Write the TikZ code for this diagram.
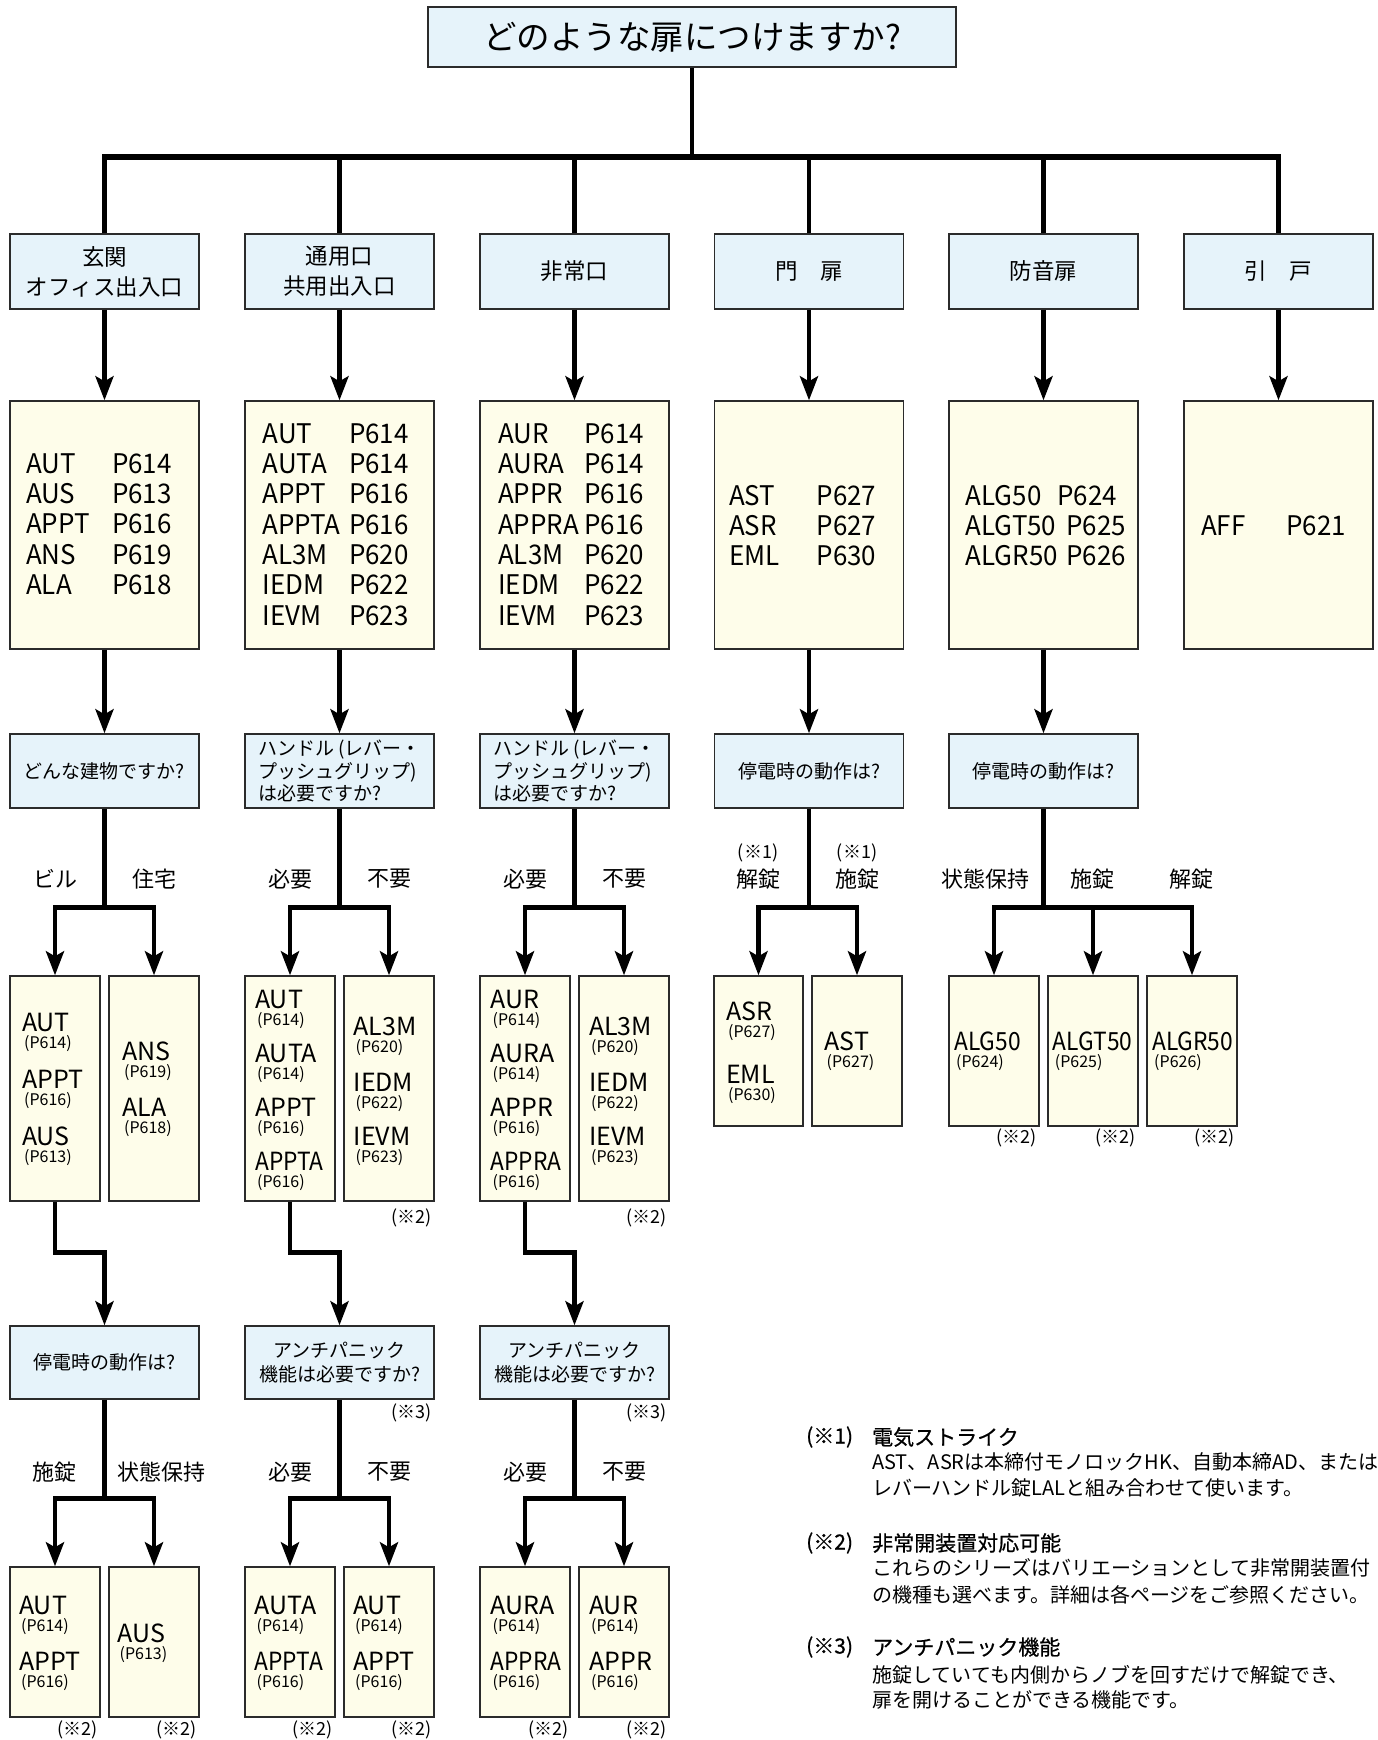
\documentclass[tikz,border=0pt]{standalone}
\usepackage{fontspec}
\setmainfont{Noto Sans CJK JP}
\newfontfamily\condf[FakeStretch=0.96]{Noto Sans CJK JP}
\newfontfamily\narf[FakeStretch=0.91]{Noto Sans CJK JP}
\newfontfamily\medf[FakeBold=0.6]{Noto Sans CJK JP}
\usetikzlibrary{arrows.meta,calc}
\definecolor{qblue}{HTML}{E6F3FA}
\definecolor{pyel}{HTML}{FEFDEA}
\definecolor{bord}{HTML}{2B2B2B}
\newcommand\fsz[2]{\fontsize{#1pt}{#2pt}\selectfont}
\newcommand\bx[7]{\node[#1,minimum width={(#5)-(#3)},minimum height={(#6)-(#4)}] (#2) at ({((#3)+(#5))/2},{((#4)+(#6))/2}) {#7};}
\newcommand\pl[6]{\node[ptx] (#1a) at (#2,#4) {#5};\node[ptx] (#1b) at (#3,#4) {#6};}
\newcommand\si[5]{\node[stx] (#1) at (#2,#3) {#4};\node[ctx] (#1c) at ({#2+2},{#3+17}) {(#5)};}
\begin{document}
\begin{tikzpicture}[x=1pt,y=-1pt,
  box/.style={draw=bord,line width=1.4pt,inner sep=0pt,align=center},
  qbox/.style={box,fill=qblue},
  pbox/.style={box,fill=pyel},
  line/.style={line width=4.5pt},
  arr/.style={line width=4.5pt,-{Stealth[length=24pt,width=18pt,inset=5pt]}},
  ptx/.style={anchor=base west,inner sep=0pt,font=\condf\fsz{27}{30}},
  stx/.style={anchor=base west,inner sep=0pt,font=\fsz{25}{25}},
  ctx/.style={anchor=base west,inner sep=0pt,font=\fsz{16}{16}},
  lab/.style={inner sep=0pt,font=\fsz{22}{22}},
  note/.style={inner sep=0pt,anchor=east,font=\fsz{18}{18}},
  fn/.style={inner sep=0pt,anchor=west,font=\fsz{20}{20}},
  fh/.style={inner sep=0pt,anchor=west,font=\medf\fsz{21}{21}},
]
\useasboundingbox (0,0) rectangle (1378,1740);

% ---- top
\bx{qbox,font=\fsz{33.5}{36}}{top}{428}{7}{956}{67}{どのような扉につけますか?}
% ---- level 1
\bx{qbox,font=\fsz{22.5}{30}}{L1}{10}{234}{199}{309}{玄関\\オフィス出入口}
\bx{qbox,font=\fsz{22.5}{30}}{L2}{245}{234}{434}{309}{通用口\\共用出入口}
\bx{qbox,font=\fsz{22.5}{30}}{L3}{480}{234}{669}{309}{非常口}
\bx{qbox,font=\fsz{22.5}{30}}{L4}{714.5}{234}{903.5}{309}{門　扉}
\bx{qbox,font=\fsz{22.5}{30}}{L5}{949}{234}{1138}{309}{防音扉}
\bx{qbox,font=\fsz{22.5}{30}}{L6}{1184}{234}{1373}{309}{引　戸}
% ---- product lists
\bx{pbox}{P1}{10}{401}{199}{649}{}
\bx{pbox}{P2}{245}{401}{434}{649}{}
\bx{pbox}{P3}{480}{401}{669}{649}{}
\bx{pbox}{P4}{714.5}{401}{903.5}{649}{}
\bx{pbox}{P5}{949}{401}{1138}{649}{}
\bx{pbox}{P6}{1184}{401}{1373}{649}{}
\pl{p11}{26}{112}{473.3}{AUT}{P614}
\pl{p12}{26}{112}{503.6}{AUS}{P613}
\pl{p13}{26}{112}{533.9}{APPT}{P616}
\pl{p14}{26}{112}{564.2}{ANS}{P619}
\pl{p15}{26}{112}{594.5}{ALA}{P618}
\pl{p21}{262.5}{349}{443.3}{AUT}{P614}
\pl{p22}{262.5}{349}{473.6}{AUTA}{P614}
\pl{p23}{262.5}{349}{503.9}{APPT}{P616}
\pl{p24}{262.5}{349}{534.2}{APPTA}{P616}
\pl{p25}{262.5}{349}{564.5}{AL3M}{P620}
\pl{p26}{262.5}{349}{594.8}{IEDM}{P622}
\pl{p27}{262.5}{349}{625.1}{IEVM}{P623}
\pl{p31}{498}{584}{443.3}{AUR}{P614}
\pl{p32}{498}{584}{473.6}{AURA}{P614}
\pl{p33}{498}{584}{503.9}{APPR}{P616}
\pl{p34}{498}{584}{534.2}{APPRA}{P616}
\pl{p35}{498}{584}{564.5}{AL3M}{P620}
\pl{p36}{498}{584}{594.8}{IEDM}{P622}
\pl{p37}{498}{584}{625.1}{IEVM}{P623}
\pl{p41}{729}{816.5}{505}{AST}{P627}
\pl{p42}{729}{816.5}{535.3}{ASR}{P627}
\pl{p43}{729}{816.5}{565.6}{EML}{P630}
\pl{p51}{965.5}{1057}{505}{ALG50}{P624}
\pl{p52}{965.5}{1066}{535.3}{ALGT50}{P625}
\pl{p53}{965.5}{1066}{565.6}{ALGR50}{P626}
\pl{p61}{1201}{1286}{535}{AFF}{P621}
% ---- questions
\bx{qbox,font=\fsz{19}{23}}{Q1}{10}{734}{199}{808}{どんな建物ですか?}
\bx{qbox,font=\fsz{19}{22.5},align=left}{Q2}{245}{734}{434}{808}{ハンドル (レバー・\\プッシュグリップ)\\は必要ですか?}
\bx{qbox,font=\fsz{19}{22.5},align=left}{Q3}{480}{734}{669}{808}{ハンドル (レバー・\\プッシュグリップ)\\は必要ですか?}
\bx{qbox,font=\fsz{19}{23}}{Q4}{714.5}{734}{903.5}{808}{停電時の動作は?}
\bx{qbox,font=\fsz{19}{23}}{Q5}{949}{734}{1138}{808}{停電時の動作は?}
% ---- sub boxes
\bx{pbox}{S1a}{10}{976}{100}{1201}{}
\bx{pbox}{S1b}{109}{976}{199}{1201}{}
\bx{pbox}{S2a}{245}{976}{335}{1201}{}
\bx{pbox}{S2b}{344}{976}{434}{1201}{}
\bx{pbox}{S3a}{480}{976}{570}{1201}{}
\bx{pbox}{S3b}{579}{976}{669}{1201}{}
\bx{pbox}{S4a}{714}{976}{803}{1126}{}
\bx{pbox}{S4b}{812}{976}{902}{1126}{}
\bx{pbox}{S5a}{949}{976}{1039}{1126}{}
\bx{pbox}{S5b}{1048}{976}{1138}{1126}{}
\bx{pbox}{S5c}{1147}{976}{1237}{1126}{}
\si{s1a1}{22}{1031.7}{AUT}{P614}
\si{s1a2}{22}{1088.3}{APPT}{P616}
\si{s1a3}{22}{1145}{AUS}{P613}
\si{s1b1}{122}{1060.7}{ANS}{P619}
\si{s1b2}{122}{1116.7}{ALA}{P618}
\si{s2a1}{255}{1008.3}{AUT}{P614}
\si{s2a2}{255}{1062.3}{AUTA}{P614}
\si{s2a3}{255}{1116.3}{APPT}{P616}
\si{s2a4}{255}{1170.3}{\narf APPTA}{P616}
\si{s2b1}{353.5}{1035}{AL3M}{P620}
\si{s2b2}{353.5}{1091.7}{IEDM}{P622}
\si{s2b3}{353.5}{1145}{IEVM}{P623}
\si{s3a1}{490.5}{1008.3}{AUR}{P614}
\si{s3a2}{490.5}{1062.3}{AURA}{P614}
\si{s3a3}{490.5}{1116.3}{APPR}{P616}
\si{s3a4}{490.5}{1170.3}{\narf APPRA}{P616}
\si{s3b1}{589}{1035}{AL3M}{P620}
\si{s3b2}{589}{1091.7}{IEDM}{P622}
\si{s3b3}{589}{1145}{IEVM}{P623}
\si{s4a1}{726}{1020}{ASR}{P627}
\si{s4a2}{726}{1083.3}{EML}{P630}
\si{s4b1}{824.5}{1050}{AST}{P627}
\si{s5a1}{954}{1050}{\narf ALG50}{P624}
\si{s5b1}{1052.7}{1050}{\narf ALGT50}{P625}
\si{s5c1}{1152}{1050}{\narf ALGR50}{P626}
% ---- second questions
\bx{qbox,font=\fsz{19}{23}}{R1}{10}{1326}{199}{1399}{停電時の動作は?}
\bx{qbox,font=\fsz{19}{23.5}}{R2}{245}{1326}{434}{1399}{アンチパニック\\機能は必要ですか?}
\bx{qbox,font=\fsz{19}{23.5}}{R3}{480}{1326}{669}{1399}{アンチパニック\\機能は必要ですか?}
% ---- bottom boxes
\bx{pbox}{B1a}{10}{1567}{100}{1717}{}
\bx{pbox}{B1b}{109}{1567}{199}{1717}{}
\bx{pbox}{B2a}{245}{1567}{335}{1717}{}
\bx{pbox}{B2b}{344}{1567}{434}{1717}{}
\bx{pbox}{B3a}{480}{1567}{570}{1717}{}
\bx{pbox}{B3b}{579}{1567}{669}{1717}{}
\si{b1a1}{19}{1614.3}{AUT}{P614}
\si{b1a2}{19}{1670}{APPT}{P616}
\si{b1b1}{117.5}{1642.7}{AUS}{P613}
\si{b2a1}{254.4}{1614.3}{AUTA}{P614}
\si{b2a2}{254.4}{1670}{\narf APPTA}{P616}
\si{b2b1}{353}{1614.3}{AUT}{P614}
\si{b2b2}{353}{1670}{APPT}{P616}
\si{b3a1}{490.4}{1614.3}{AURA}{P614}
\si{b3a2}{490.4}{1670}{\narf APPRA}{P616}
\si{b3b1}{589}{1614.3}{AUR}{P614}
\si{b3b2}{589}{1670}{APPR}{P616}

% ---- connectors top
\coordinate (hub) at (692,157);
\draw[line] (top.south) -- (hub);
\draw[line width=5.5pt,shorten <=-2.25pt,shorten >=-2.25pt] (L1.north |- hub) -- (L6.north |- hub);
\foreach \i in {1,...,6} {\draw[line] (L\i.north |- hub) -- (L\i.north);}
\foreach \i in {1,...,6} {\draw[arr] (L\i.south) -- (P\i.north);}
\foreach \i in {1,...,5} {\draw[arr] (P\i.south) -- (Q\i.north);}
% ---- forks level 1
\draw[line] (Q1.south) -- ++(0,99) coordinate (f1);
\draw[arr] (f1) -| (S1a.north); \draw[arr] (f1) -| (S1b.north);
\draw[line] (Q2.south) -- ++(0,99) coordinate (f2);
\draw[arr] (f2) -| (S2a.north); \draw[arr] (f2) -| (S2b.north);
\draw[line] (Q3.south) -- ++(0,99) coordinate (f3);
\draw[arr] (f3) -| (S3a.north); \draw[arr] (f3) -| (S3b.north);
\draw[line] (Q4.south) -- ++(0,99) coordinate (f4);
\draw[arr] (f4) -| (S4a.north); \draw[arr] (f4) -| (S4b.north);
\draw[line] (Q5.south) -- ++(0,99) coordinate (f5);
\draw[arr] (f5) -| (S5a.north); \draw[arr] (f5) -| (S5b.north); \draw[arr] (f5) -| (S5c.north);
% ---- links down
\draw[arr] (S1a.south) -- ++(0,51) -| (R1.north);
\draw[arr] (S2a.south) -- ++(0,51) -| (R2.north);
\draw[arr] (S3a.south) -- ++(0,51) -| (R3.north);
% ---- forks level 2
\draw[line] (R1.south) -- ++(0,99) coordinate (g1);
\draw[arr] (g1) -| (B1a.north); \draw[arr] (g1) -| (B1b.north);
\draw[line] (R2.south) -- ++(0,99) coordinate (g2);
\draw[arr] (g2) -| (B2a.north); \draw[arr] (g2) -| (B2b.north);
\draw[line] (R3.south) -- ++(0,99) coordinate (g3);
\draw[arr] (g3) -| (B3a.north); \draw[arr] (g3) -| (B3b.north);

% ---- labels
\node[lab] (la1) at (55,879) {ビル};
\node[lab] (la2) at (154,879) {住宅};
\node[lab] (la3) at (290,879) {必要};
\node[lab] (la4) at (389,879) {不要};
\node[lab] (la5) at (525,879) {必要};
\node[lab] (la6) at (624,879) {不要};
\node[lab] (la7) at (758,879) {解錠};
\node[lab] (la8) at (857,879) {施錠};
\node[lab] (la9) at (985.6,879) {状態保持};
\node[lab] (la10) at (1092.5,879) {施錠};
\node[lab] (la11) at (1191,879) {解錠};
\node[lab,font=\fsz{18}{18}] (ln1) at (758,853) {(※1)};
\node[lab,font=\fsz{18}{18}] (ln2) at (857,853) {(※1)};
\node[lab] (lb1) at (54,1472) {施錠};
\node[lab] (lb2) at (161.5,1472) {状態保持};
\node[lab] (lb3) at (290,1472) {必要};
\node[lab] (lb4) at (389,1472) {不要};
\node[lab] (lb5) at (525,1472) {必要};
\node[lab] (lb6) at (624,1472) {不要};
% ---- notes
\node[note] (n1) at (432,1218) {(※2)};
\node[note] (n2) at (667,1218) {(※2)};
\node[note] (n3) at (1036.6,1138) {(※2)};
\node[note] (n4) at (1135.5,1138) {(※2)};
\node[note] (n5) at (1234.5,1138) {(※2)};
\node[note] (n6) at (431.6,1413) {(※3)};
\node[note] (n7) at (667,1413) {(※3)};
\node[note] (n8) at (97.8,1730) {(※2)};
\node[note] (n9) at (196.5,1730) {(※2)};
\node[note] (n10) at (332.5,1730) {(※2)};
\node[note] (n11) at (431.5,1730) {(※2)};
\node[note] (n12) at (568.5,1730) {(※2)};
\node[note] (n13) at (667,1730) {(※2)};
% ---- footnotes
\node[fh] (k1) at (806,1437) {(※1)};
\node[fh] (k1t) at (872,1437) {電気ストライク};
\node[fn] (k1a) at (872,1462) {AST、ASRは本締付モノロックHK、自動本締AD、または};
\node[fn] (k1b) at (872,1488) {レバーハンドル錠LALと組み合わせて使います。};
\node[fh] (k2) at (806,1543) {(※2)};
\node[fh] (k2t) at (872,1543) {非常開装置対応可能};
\node[fn] (k2a) at (872,1568) {これらのシリーズはバリエーションとして非常開装置付};
\node[fn] (k2b) at (872,1595) {の機種も選べます。詳細は各ページをご参照ください。};
\node[fh] (k3) at (806,1647) {(※3)};
\node[fh] (k3t) at (872,1647) {アンチパニック機能};
\node[fn] (k3a) at (872,1675) {施錠していても内側からノブを回すだけで解錠でき、};
\node[fn] (k3b) at (872,1700) {扉を開けることができる機能です。};
\end{tikzpicture}
\end{document}
